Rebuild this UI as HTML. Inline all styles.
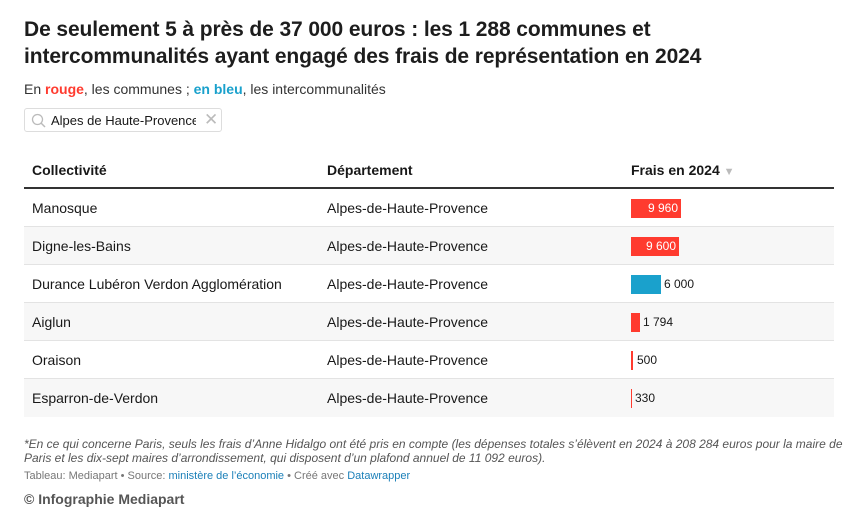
<!DOCTYPE html>
<html><head><meta charset="utf-8"><style>
body{margin:0;width:855px;height:524px;background:#fff;font-family:"Liberation Sans",sans-serif;color:#181818;position:relative;overflow:hidden}
.a{position:absolute;white-space:nowrap}
h1{position:absolute;left:24px;top:16px;margin:0;font-size:21px;line-height:27px;font-weight:bold;color:#1d1d1d;letter-spacing:-0.1px}
.row{position:absolute;left:24px;width:810px;height:38px;border-bottom:1px solid #e3e3e3;font-size:14px;box-sizing:border-box}
.row span{position:absolute;top:11px}
.bar{position:absolute;top:10px;height:19px}
.r{background:#ff3b2f}.b{background:#1aa1cc}
.v{font-size:12px;top:12px!important}
</style></head><body>
<h1>De seulement 5 à près de 37 000 euros : les 1 288 communes et<br>intercommunalités ayant engagé des frais de représentation en 2024</h1>
<div class="a" style="left:24px;top:81px;font-size:14px;color:#333">En <b style="color:#ff3b2f">rouge</b>, les communes ; <b style="color:#1aa1cc">en bleu</b>, les intercommunalités</div>
<div class="a" style="left:24px;top:108px;width:198px;height:24px;border:1px solid #ddd;border-radius:3px;font-size:13px;box-sizing:border-box">
<svg style="position:absolute;left:6px;top:4px" width="16" height="16"><circle cx="6.5" cy="6.5" r="5" fill="none" stroke="#bbb" stroke-width="1.3"/><line x1="10" y1="10" x2="14" y2="14" stroke="#bbb" stroke-width="1.5"/></svg>
<span style="position:absolute;left:26px;top:4px;width:145px;overflow:hidden">Alpes de Haute-Provence</span>
<span style="position:absolute;left:179px;top:1px;color:#bbb;font-size:17px">✕</span></div>
<div class="a" style="left:32px;top:162px;font-size:14px;font-weight:bold">Collectivité</div>
<div class="a" style="left:327px;top:162px;font-size:14px;font-weight:bold">Département</div>
<div class="a" style="left:631px;top:162px;font-size:14px;font-weight:bold">Frais en 2024 <span style="color:#bbb;font-size:11px">▼</span></div>
<div class="a" style="left:24px;top:187px;width:810px;height:2px;background:#333"></div>
<div class="row" style="top:189px"><span style="left:8px">Manosque</span><span style="left:303px">Alpes-de-Haute-Provence</span><div class="bar r" style="left:607px;width:50px"></div><span class="v" style="left:624px;color:#fff">9 960</span></div>
<div class="row" style="top:227px;background:#f7f7f7"><span style="left:8px">Digne-les-Bains</span><span style="left:303px">Alpes-de-Haute-Provence</span><div class="bar r" style="left:607px;width:48px"></div><span class="v" style="left:622px;color:#fff">9 600</span></div>
<div class="row" style="top:265px"><span style="left:8px">Durance Lubéron Verdon Agglomération</span><span style="left:303px">Alpes-de-Haute-Provence</span><div class="bar b" style="left:607px;width:30px"></div><span class="v" style="left:640px">6 000</span></div>
<div class="row" style="top:303px;background:#f7f7f7"><span style="left:8px">Aiglun</span><span style="left:303px">Alpes-de-Haute-Provence</span><div class="bar r" style="left:607px;width:9px"></div><span class="v" style="left:619px">1 794</span></div>
<div class="row" style="top:341px"><span style="left:8px">Oraison</span><span style="left:303px">Alpes-de-Haute-Provence</span><div class="bar r" style="left:607px;width:2px"></div><span class="v" style="left:613px">500</span></div>
<div class="row" style="top:379px;background:#f7f7f7;border-bottom:none"><span style="left:8px">Esparron-de-Verdon</span><span style="left:303px">Alpes-de-Haute-Provence</span><div class="bar r" style="left:607px;width:1px"></div><span class="v" style="left:611px">330</span></div>
<div class="a" style="left:24px;top:437px;font-size:12px;line-height:14px;color:#555;font-style:italic;white-space:normal;width:835px">*En ce qui concerne Paris, seuls les frais d’Anne Hidalgo ont été pris en compte (les dépenses totales s’élèvent en 2024 à 208 284 euros pour la maire de Paris et les dix-sept maires d’arrondissement, qui disposent d’un plafond annuel de 11 092 euros).</div>
<div class="a" style="left:24px;top:470px;font-size:11px;color:#777">Tableau: Mediapart • Source: <span style="color:#1a7fb8">ministère de l’économie</span> • Créé avec <span style="color:#1a7fb8">Datawrapper</span></div>
<div class="a" style="left:24px;top:491px;font-size:14px;font-weight:bold;color:#555">© Infographie Mediapart</div>
</body></html>
